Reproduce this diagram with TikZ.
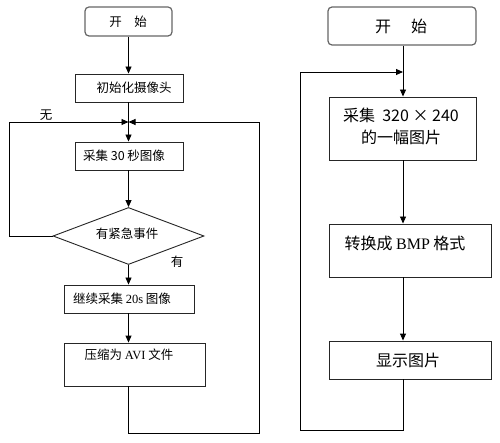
\documentclass[tikz,border=0pt]{standalone}
\usepackage{fontspec}
\setmainfont{Liberation Serif}
\newfontfamily\cjk{Noto Sans CJK SC}
\newfontfamily\latin{Liberation Serif}
\usetikzlibrary{arrows.meta,shapes.geometric}
\begin{document}
\begin{tikzpicture}[x=1pt,y=-1pt,
  line width=0.9pt,
  box/.style={draw=black!85, rectangle, inner sep=0pt},
  startbox/.style={draw=black!60, line width=1.2pt, rectangle, rounded corners=4pt, inner sep=0pt},
  ltxt/.style={inner sep=0pt, font=\cjk\fontsize{12.5}{14}\selectfont},
  rtxt/.style={inner sep=0pt, font=\cjk\fontsize{16}{22}\selectfont, align=center},
  arr/.style={-{Triangle[length=7pt,width=6pt]}},
  ln/.style={draw=black!85}
]
\useasboundingbox (0,0) rectangle (500,443);
\fill[white] (0,0) rectangle (500,443);

% ---------- left chart ----------
\node[startbox, minimum width=87pt, minimum height=29pt] (s1) at (128.5,21.5) {};
\node[ltxt] (s1t) at (128,21.5) {开\hspace{1em}始};
\node[box, minimum width=108pt, minimum height=28pt] (init) at (129,88) {};
\node[ltxt] (initt) at (134,88) {初始化摄像头};
\coordinate (J1) at (128.5,122);
\node[box, minimum width=108pt, minimum height=28pt] (b2) at (129,156) {};
\node[ltxt] (b2t) at (124,156) {采集 30 秒图像};
\node[draw=black!85, diamond, inner sep=0pt, minimum width=151pt, minimum height=57pt] (d) at (128.5,236) {};
\node[ltxt] (dt) at (127,234) {有紧急事件};
\node[ltxt] (yes) at (177,262) {有};
\node[ltxt] (no) at (46,115) {无};
\node[box, minimum width=130pt, minimum height=28pt] (b3) at (129,299) {};
\node[ltxt] (b3t) at (122,299) {继续采集 {\latin 20s} 图像};
\node[box, minimum width=141pt, minimum height=43pt] (b4) at (134.5,364.5) {};
\node[ltxt] (b4t) at (129,355) {压缩为 {\latin AVI} 文件};
\coordinate (L1) at (9,122);
\coordinate (R1) at (259,122);

\draw[arr] (s1.south -| J1) -- (init.north -| J1);
\draw (init.south -| J1) -- (J1);
\draw[arr] (J1) -- (b2.north -| J1);
\draw[arr] (b2.south -| J1) -- (d.north);
\draw[arr] (d.south) -- (b3.north -| J1);
\draw[arr] (b3.south -| J1) -- (b4.north -| J1);
\draw[arr] (d.west) -| (L1) -- (J1);
\draw[arr] (b4.south -| J1) -- ++(0,47) -| (R1) -- (J1);

% ---------- right chart ----------
\node[startbox, minimum width=148pt, minimum height=38pt] (s2) at (402,26) {};
\node[rtxt] (s2t) at (401,26) {开\hspace{1.25em}始};
\coordinate (J2) at (403,72);
\node[box, minimum width=147pt, minimum height=63pt] (c1) at (402.5,128.5) {};
\node[rtxt] (c1t) at (401,126) {采集\ \ 320 × 240\\的一幅图片};
\node[box, minimum width=162pt, minimum height=53pt] (c2) at (410,250.5) {};
\node[rtxt] (c2t) at (405,243) {转换成 {\latin BMP} 格式};
\node[box, minimum width=162pt, minimum height=38pt] (c3) at (410,360) {};
\node[rtxt] (c3t) at (408,360) {显示图片};
\coordinate (L2) at (300,72);

\draw (s2.south -| J2) -- (J2);
\draw[arr] (J2) -- (c1.north -| J2);
\draw[arr] (c1.south -| J2) -- (c2.north -| J2);
\draw[arr] (c2.south -| J2) -- (c3.north -| J2);
\draw[arr] (c3.south -| J2) -- ++(0,51) -| (L2) -- (J2);
\end{tikzpicture}
\end{document}
